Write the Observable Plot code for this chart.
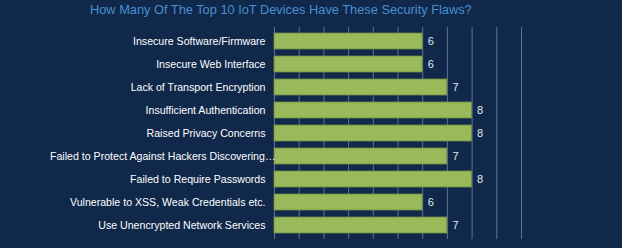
<!DOCTYPE html>
<html>
<head>
<meta charset="utf-8">
<script src="https://cdn.jsdelivr.net/npm/d3@7"></script>
<script src="https://cdn.jsdelivr.net/npm/@observablehq/plot@0.6"></script>
<style>
  html, body { margin: 0; padding: 0; background: #10284a; }
  #wrap { width: 622px; height: 248px; background: #10284a; overflow: hidden; }
  #title {
    height: 22px; line-height: 19px; font-family: "Liberation Sans", Arial, sans-serif;
    font-size: 12.8px; color: #4a8fd0; padding-left: 90px; white-space: nowrap;
  }
  #chart svg { display: block; }
</style>
</head>
<body>
<div id="wrap">
  <div id="title">How Many Of The Top 10 IoT Devices Have These Security Flaws?</div>
  <div id="chart"></div>
</div>
<script>
const flaws = [
  "Insecure Software/Firmware",
  "Insecure Web Interface",
  "Lack of Transport Encryption",
  "Insufficient Authentication",
  "Raised Privacy Concerns",
  "Failed to Protect Against Hackers Discovering…",
  "Failed to Require Passwords",
  "Vulnerable to XSS, Weak Credentials etc.",
  "Use Unencrypted Network Services"
];
const devices = [6, 6, 7, 8, 8, 7, 8, 6, 7];
const xTicks = [0, 1, 2, 3, 4, 5, 6, 7, 8, 9, 10];

const data = flaws.map((flaw, i) => ({flaw, devices: devices[i]}));
// Truncated labels spill their ellipsis up to the axis line
const truncated = d => d.flaw.endsWith("…");

const chart = Plot.plot({
  width: 622,
  height: 226,
  marginTop: 5,
  marginBottom: 9,
  marginLeft: 274,
  marginRight: 101,
  style: {background: "transparent", fontFamily: "'Liberation Sans', Arial, sans-serif", fontSize: "10.6px", color: "#ffffff"},
  x: {domain: [0, 10], axis: null},
  y: {domain: flaws, paddingInner: 0.32, paddingOuter: 0.16, axis: null},
  marks: [
    Plot.ruleX(xTicks, {stroke: "#5d7390", strokeWidth: 1}),
    Plot.barX(data, {x: "devices", y: "flaw", fill: "#9ab95a", stroke: "#6f8c45", strokeWidth: 0.8}),
    Plot.text(data, {filter: d => !truncated(d), x: 0, y: "flaw", text: "flaw", textAnchor: "end", dx: -9, fill: "#ffffff", fontSize: 10.6}),
    Plot.text(data, {filter: truncated, x: 0, y: "flaw", text: "flaw", textAnchor: "end", dx: 1, fill: "#ffffff", fontSize: 10.6}),
    Plot.text(data, {x: "devices", y: "flaw", text: d => String(d.devices), textAnchor: "start", dx: 5, fill: "#e4e8ee", fontSize: 11})
  ]
});
document.getElementById("chart").appendChild(chart);
</script>
</body>
</html>
